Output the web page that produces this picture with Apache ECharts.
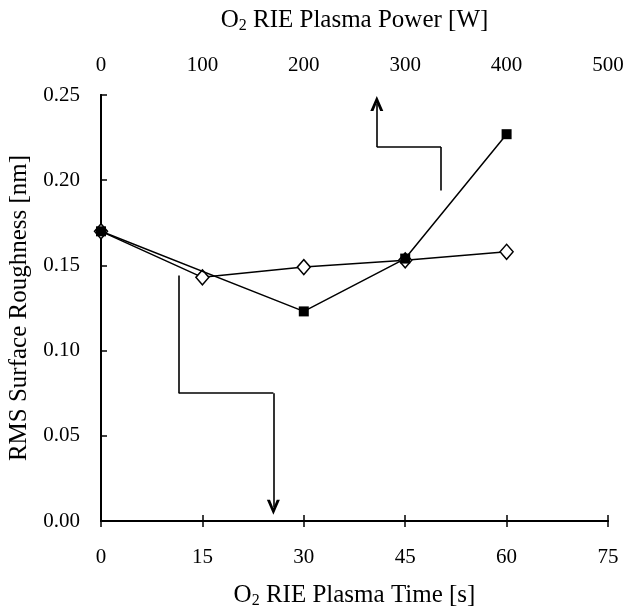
<!DOCTYPE html>
<html>
<head>
<meta charset="utf-8">
<script src="https://cdn.jsdelivr.net/npm/echarts@6/dist/echarts.min.js"></script>
<style>html,body{margin:0;padding:0;background:#fff}#c{width:624px;height:610px}</style>
</head>
<body>
<div id="c"></div>
<script>
// Data
const timeTicks = [0, 15, 30, 45, 60, 75];
const timeValues = [0, 15, 30, 45, 60];
const timeRoughness = [0.170, 0.143, 0.149, 0.153, 0.158];
const powerValues = [0, 200, 300, 400];
const powerRoughness = [0.170, 0.123, 0.154, 0.227];
// annotation arrows (data coordinates, time axis / roughness)
const arrowDown = [[11.5, 0.144], [11.5, 0.075], [25.5, 0.075], [25.5, 0.008]];
const arrowUp = [[50.3, 0.194], [50.3, 0.2195], [40.8, 0.2195], [40.8, 0.245]];

const FONT = 'Liberation Serif';
const chart = echarts.init(document.getElementById('c'));
const black = '#000';

function segs(pts) {
  const out = [];
  for (let i = 0; i < pts.length - 1; i++) {
    out.push([{ coord: pts[i], symbol: 'none' }, { coord: pts[i + 1], symbol: i === pts.length - 2 ? 'path://M5,0 L10,10 L7.6,10 L5,4.6 L2.4,10 L0,10 Z' : 'none' }]);
  }
  return out;
}

const nameRich = {
  a: { fontFamily: FONT, fontSize: 25, color: black },
  s: { fontFamily: FONT, fontSize: 16, color: black, padding: [12, 0, 0, 0] }
};

chart.setOption({
  animation: false,
  backgroundColor: '#fff',
  textStyle: { fontFamily: FONT, color: black },
  grid: { left: 101, right: 16, top: 95, bottom: 89, show: false, containLabel: false, outerBoundsMode: 'none' },
  xAxis: [
    {
      type: 'value', position: 'bottom', min: 0, max: 75, interval: 15,
      name: '{a|O}{s|2}{a| RIE Plasma Time [s]}', nameLocation: 'middle', nameGap: 60,
      nameTextStyle: { rich: nameRich },
      axisLine: { show: true, lineStyle: { color: black, width: 2 } },
      axisTick: { show: true, inside: true, length: 6, lineStyle: { color: black, width: 1.5 } },
      axisLabel: { fontFamily: FONT, fontSize: 21, color: black, margin: 26 },
      splitLine: { show: false }
    },
    {
      type: 'value', position: 'top', min: 0, max: 500, interval: 100,
      name: '{a|O}{s|2}{a| RIE Plasma Power [W]}', nameLocation: 'middle', nameGap: 61,
      nameTextStyle: { rich: nameRich },
      axisLine: { show: true, lineStyle: { color: black, width: 2 } },
      axisTick: { show: true, inside: true, length: 6, lineStyle: { color: black, width: 1.5 } },
      axisLabel: { fontFamily: FONT, fontSize: 21, color: black, margin: 19 },
      splitLine: { show: false }
    }
  ],
  yAxis: [
    {
      type: 'value', position: 'left', min: 0, max: 0.25, interval: 0.05,
      name: 'RMS Surface Roughness [nm]', nameLocation: 'middle', nameGap: 58,
      nameTextStyle: { fontFamily: FONT, fontSize: 25, color: black },
      axisLine: { show: true, lineStyle: { color: black, width: 2 } },
      axisTick: { show: true, inside: true, length: 6, lineStyle: { color: black, width: 1.5 } },
      axisLabel: { fontFamily: FONT, fontSize: 21, color: black, margin: 21, formatter: v => v.toFixed(2) },
      splitLine: { show: false }
    },
    {
      type: 'value', position: 'right', min: 0, max: 0.25, interval: 0.05,
      axisLine: { show: true, lineStyle: { color: black, width: 2 } },
      axisTick: { show: false }, axisLabel: { show: false }, splitLine: { show: false }
    }
  ],
  series: [
    {
      name: 'Power', type: 'line', xAxisIndex: 1, yAxisIndex: 0,
      data: powerValues.map((v, i) => [v, powerRoughness[i]]),
      symbol: 'rect', symbolSize: 10, showAllSymbol: true,
      lineStyle: { color: black, width: 1.5 },
      itemStyle: { color: black, borderColor: black, borderWidth: 0 },
      z: 3
    },
    {
      name: 'Time', type: 'line', xAxisIndex: 0, yAxisIndex: 0,
      data: timeValues.map((v, i) => [v, timeRoughness[i]]),
      symbol: 'diamond', symbolSize: [13, 15], showAllSymbol: true,
      lineStyle: { color: black, width: 1.5 },
      itemStyle: { color: '#fff', borderColor: black, borderWidth: 1.5 },
      z: 2
    },
    {
      name: 'arrows', type: 'line', xAxisIndex: 0, yAxisIndex: 0, data: [],
      silent: true,
      markLine: {
        silent: true, animation: false,
        symbolSize: [13, 15],
        label: { show: false },
        lineStyle: { color: black, width: 1.6, type: 'solid' },
        emphasis: { disabled: true },
        data: segs(arrowDown).concat(segs(arrowUp))
      }
    }
  ]
});
</script>
</body>
</html>
